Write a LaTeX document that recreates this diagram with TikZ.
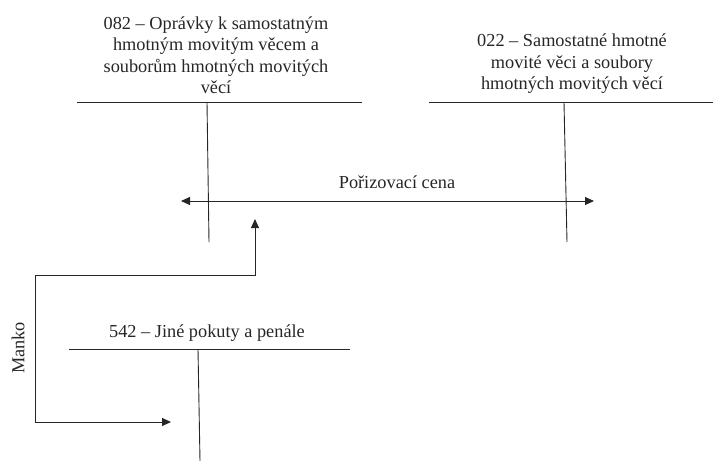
\documentclass[tikz,border=0pt]{standalone}
\usepackage{fontspec}
\setmainfont{Liberation Serif}
\usetikzlibrary{arrows.meta}
\begin{document}
\begin{tikzpicture}[x=1pt,y=-1pt,
  acct/.style={line width=0.9pt,draw=black!85},
  conn/.style={line width=0.9pt,draw=black!85,{Triangle[length=9pt,width=8pt]}-{Triangle[length=9pt,width=8pt]}},
  lbl/.style={font=\fontsize{18.3}{21.5}\selectfont,align=center,inner sep=0pt,text=black!85}]
\useasboundingbox (0,0) rectangle (713,461);
% account 082
\node[lbl] (t082) at (216,55) {082 – Oprávky k samostatným\\hmotným movitým věcem a\\souborům hmotných movitých\\věcí};
\coordinate (a1l) at (77,102); \coordinate (a1r) at (362,102);
\coordinate (a1t) at (207,102); \coordinate (a1b) at (209,242);
\draw[acct] (a1l) -- (a1r);
\draw[acct] (a1t) -- (a1b);
% account 022
\node[lbl] (t022) at (572,64) {022 – Samostatné hmotné\\movité věci a soubory\\hmotných movitých věcí};
\coordinate (a2l) at (429,102); \coordinate (a2r) at (713,102);
\coordinate (a2t) at (564,102); \coordinate (a2b) at (567,242);
\draw[acct] (a2l) -- (a2r);
\draw[acct] (a2t) -- (a2b);
% account 542
\node[lbl] (t542) at (207,333) {542 – Jiné pokuty a penále};
\coordinate (a3l) at (69,349); \coordinate (a3r) at (350,349);
\coordinate (a3t) at (198,349); \coordinate (a3b) at (200,461);
\draw[acct] (a3l) -- (a3r);
\draw[acct] (a3t) -- (a3b);
% purchase price double arrow
\coordinate (pl) at (181,201); \coordinate (pr) at (594,201);
\draw[conn] (pl) -- (pr);
\node[lbl] (pc) at (397,182) {Pořizovací cena};
% Manko path
\coordinate (m1) at (171,422); \coordinate (m2) at (35,422);
\coordinate (m3) at (35,275); \coordinate (m4) at (255,275);
\coordinate (m5) at (255,219);
\draw[conn] (m1) -- (m2) -- (m3) -- (m4) -- (m5);
\node[lbl,rotate=90] (manko) at (18,348) {Manko};
\end{tikzpicture}
\end{document}
